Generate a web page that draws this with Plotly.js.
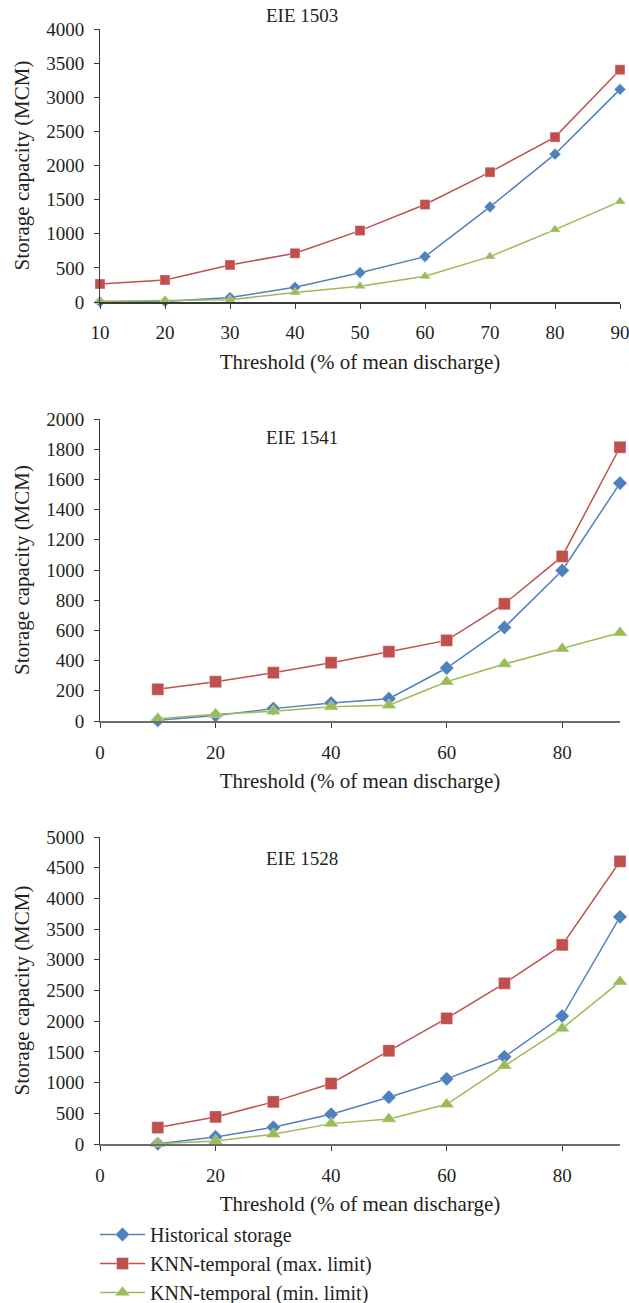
<!DOCTYPE html>
<html>
<head>
<meta charset="utf-8">
<script src="https://cdn.plot.ly/plotly-3.0.1.min.js"></script>
<style>html,body{margin:0;padding:0;background:#fff;}#chart{width:629px;height:1303px;}</style>
</head>
<body>
<div id="chart"></div>
<script>
// ---- Data ----
const thresholds = [10, 20, 30, 40, 50, 60, 70, 80, 90];
const seriesNames = ["Historical storage", "KNN-temporal (max. limit)", "KNN-temporal (min. limit)"];
const panelTitles = ["EIE 1503", "EIE 1541", "EIE 1528"];

const eie1503_hist = [3, 8, 65, 215, 430, 665, 1394, 2166, 3115];
const eie1503_max  = [264, 323, 543, 714, 1046, 1428, 1902, 2416, 3403];
const eie1503_min  = [12, 25, 32, 140, 232, 376, 665, 1061, 1472];

const eie1541_hist = [5, 37, 82, 119, 148, 351, 620, 997, 1575];
const eie1541_max  = [210, 260, 320, 386, 459, 534, 776, 1090, 1813];
const eie1541_min  = [15, 45, 64, 95, 104, 260, 377, 479, 585];

const eie1528_hist = [5, 114, 272, 484, 762, 1061, 1420, 2084, 3700];
const eie1528_max  = [267, 441, 686, 985, 1518, 2046, 2617, 3243, 4603];
const eie1528_min  = [5, 49, 158, 332, 408, 647, 1273, 1882, 2644];

const xTitle = "Threshold (% of mean discharge)";
const yTitle = "Storage capacity (MCM)";

// ---- Styling ----
const W = 629, H = 1303;
const FONT = "'Liberation Serif', serif";
const colors = ["#4F81BD", "#C0504D", "#9BBB59"];
const symbols = ["diamond", "square", "triangle-up"];

function px2x(p) { return p / W; }
function px2y(p) { return 1 - p / H; }

const panels = [
  {data: [eie1503_hist, eie1503_max, eie1503_min], yTop: 29, yBot: 302, yMax: 4000, dy: 500,
   xRange: [10, 90], xTickVals: [10, 20, 30, 40, 50, 60, 70, 80, 90], sizes: [9, 10, 10], titleY: 16},
  {data: [eie1541_hist, eie1541_max, eie1541_min], yTop: 419, yBot: 721, yMax: 2000, dy: 200,
   xRange: [0, 90], xTickVals: [0, 20, 40, 60, 80], sizes: [11, 12, 13], titleY: 437},
  {data: [eie1528_hist, eie1528_max, eie1528_min], yTop: 837, yBot: 1144, yMax: 5000, dy: 500,
   xRange: [0, 90], xTickVals: [0, 20, 40, 60, 80], sizes: [11, 12, 13], titleY: 858}
];

const traces = [];
const layout = {
  width: W, height: H,
  margin: {l: 0, r: 0, t: 0, b: 0, autoexpand: false},
  paper_bgcolor: "#ffffff", plot_bgcolor: "#ffffff",
  font: {family: FONT, color: "#231f20", size: 18},
  showlegend: true,
  legend: {
    x: px2x(95), y: px2y(1215), xanchor: "left", yanchor: "top",
    font: {family: FONT, size: 20, color: "#231f20"},
    bgcolor: "rgba(0,0,0,0)", tracegroupgap: 0, itemwidth: 45
  },
  annotations: []
};

panels.forEach((p, i) => {
  const n = i + 1;
  const xa = "x" + (n === 1 ? "" : n), ya = "y" + (n === 1 ? "" : n);
  p.data.forEach((vals, k) => {
    traces.push({
      type: "scatter", mode: "lines+markers",
      x: thresholds, y: vals, name: seriesNames[k],
      xaxis: xa, yaxis: ya,
      showlegend: i === 2,
      cliponaxis: false,
      line: {color: colors[k], width: 1.5},
      marker: {symbol: symbols[k], size: p.sizes[k], color: colors[k],
               line: {width: 0.6, color: "rgba(255,255,255,0.6)"}}
    });
  });
  layout["xaxis" + (n === 1 ? "" : n)] = {
    domain: [px2x(100), px2x(620)],
    anchor: ya,
    range: p.xRange,
    tickmode: "array", tickvals: p.xTickVals,
    showgrid: false, zeroline: false,
    showline: true, linecolor: i === 0 ? "#3a3a3a" : "#6d6d6d", linewidth: i === 0 ? 1.5 : 2,
    ticks: "outside", ticklen: 5, tickcolor: "#3a3a3a", tickwidth: 1,
    ticklabelstandoff: 8, ticklabeloverflow: "allow",
    tickfont: {family: FONT, size: 19, color: "#231f20"},
    title: {text: xTitle, font: {family: FONT, size: 21, color: "#231f20"}, standoff: 12},
    automargin: false, fixedrange: true
  };
  layout["yaxis" + (n === 1 ? "" : n)] = {
    domain: [px2y(p.yBot), px2y(p.yTop)],
    anchor: xa,
    range: [0, p.yMax],
    dtick: p.dy, tick0: 0,
    showgrid: false, zeroline: false,
    showline: true, linecolor: "#3a3a3a", linewidth: 1,
    ticks: "outside", ticklen: 5, tickcolor: "#3a3a3a", tickwidth: 1,
    ticklabelstandoff: 6, ticklabeloverflow: "allow",
    tickfont: {family: FONT, size: 19, color: "#231f20"},
    title: {text: yTitle, font: {family: FONT, size: 21, color: "#231f20"}, standoff: 10},
    automargin: false, fixedrange: true
  };
  layout.annotations.push({
    text: panelTitles[i], xref: "paper", yref: "paper",
    x: px2x(302), y: px2y(p.titleY), xanchor: "center", yanchor: "middle",
    showarrow: false, font: {family: FONT, size: 19, color: "#231f20"}
  });
});

Plotly.newPlot("chart", traces, layout, {displayModeBar: false, staticPlot: true});
</script>
</body>
</html>
